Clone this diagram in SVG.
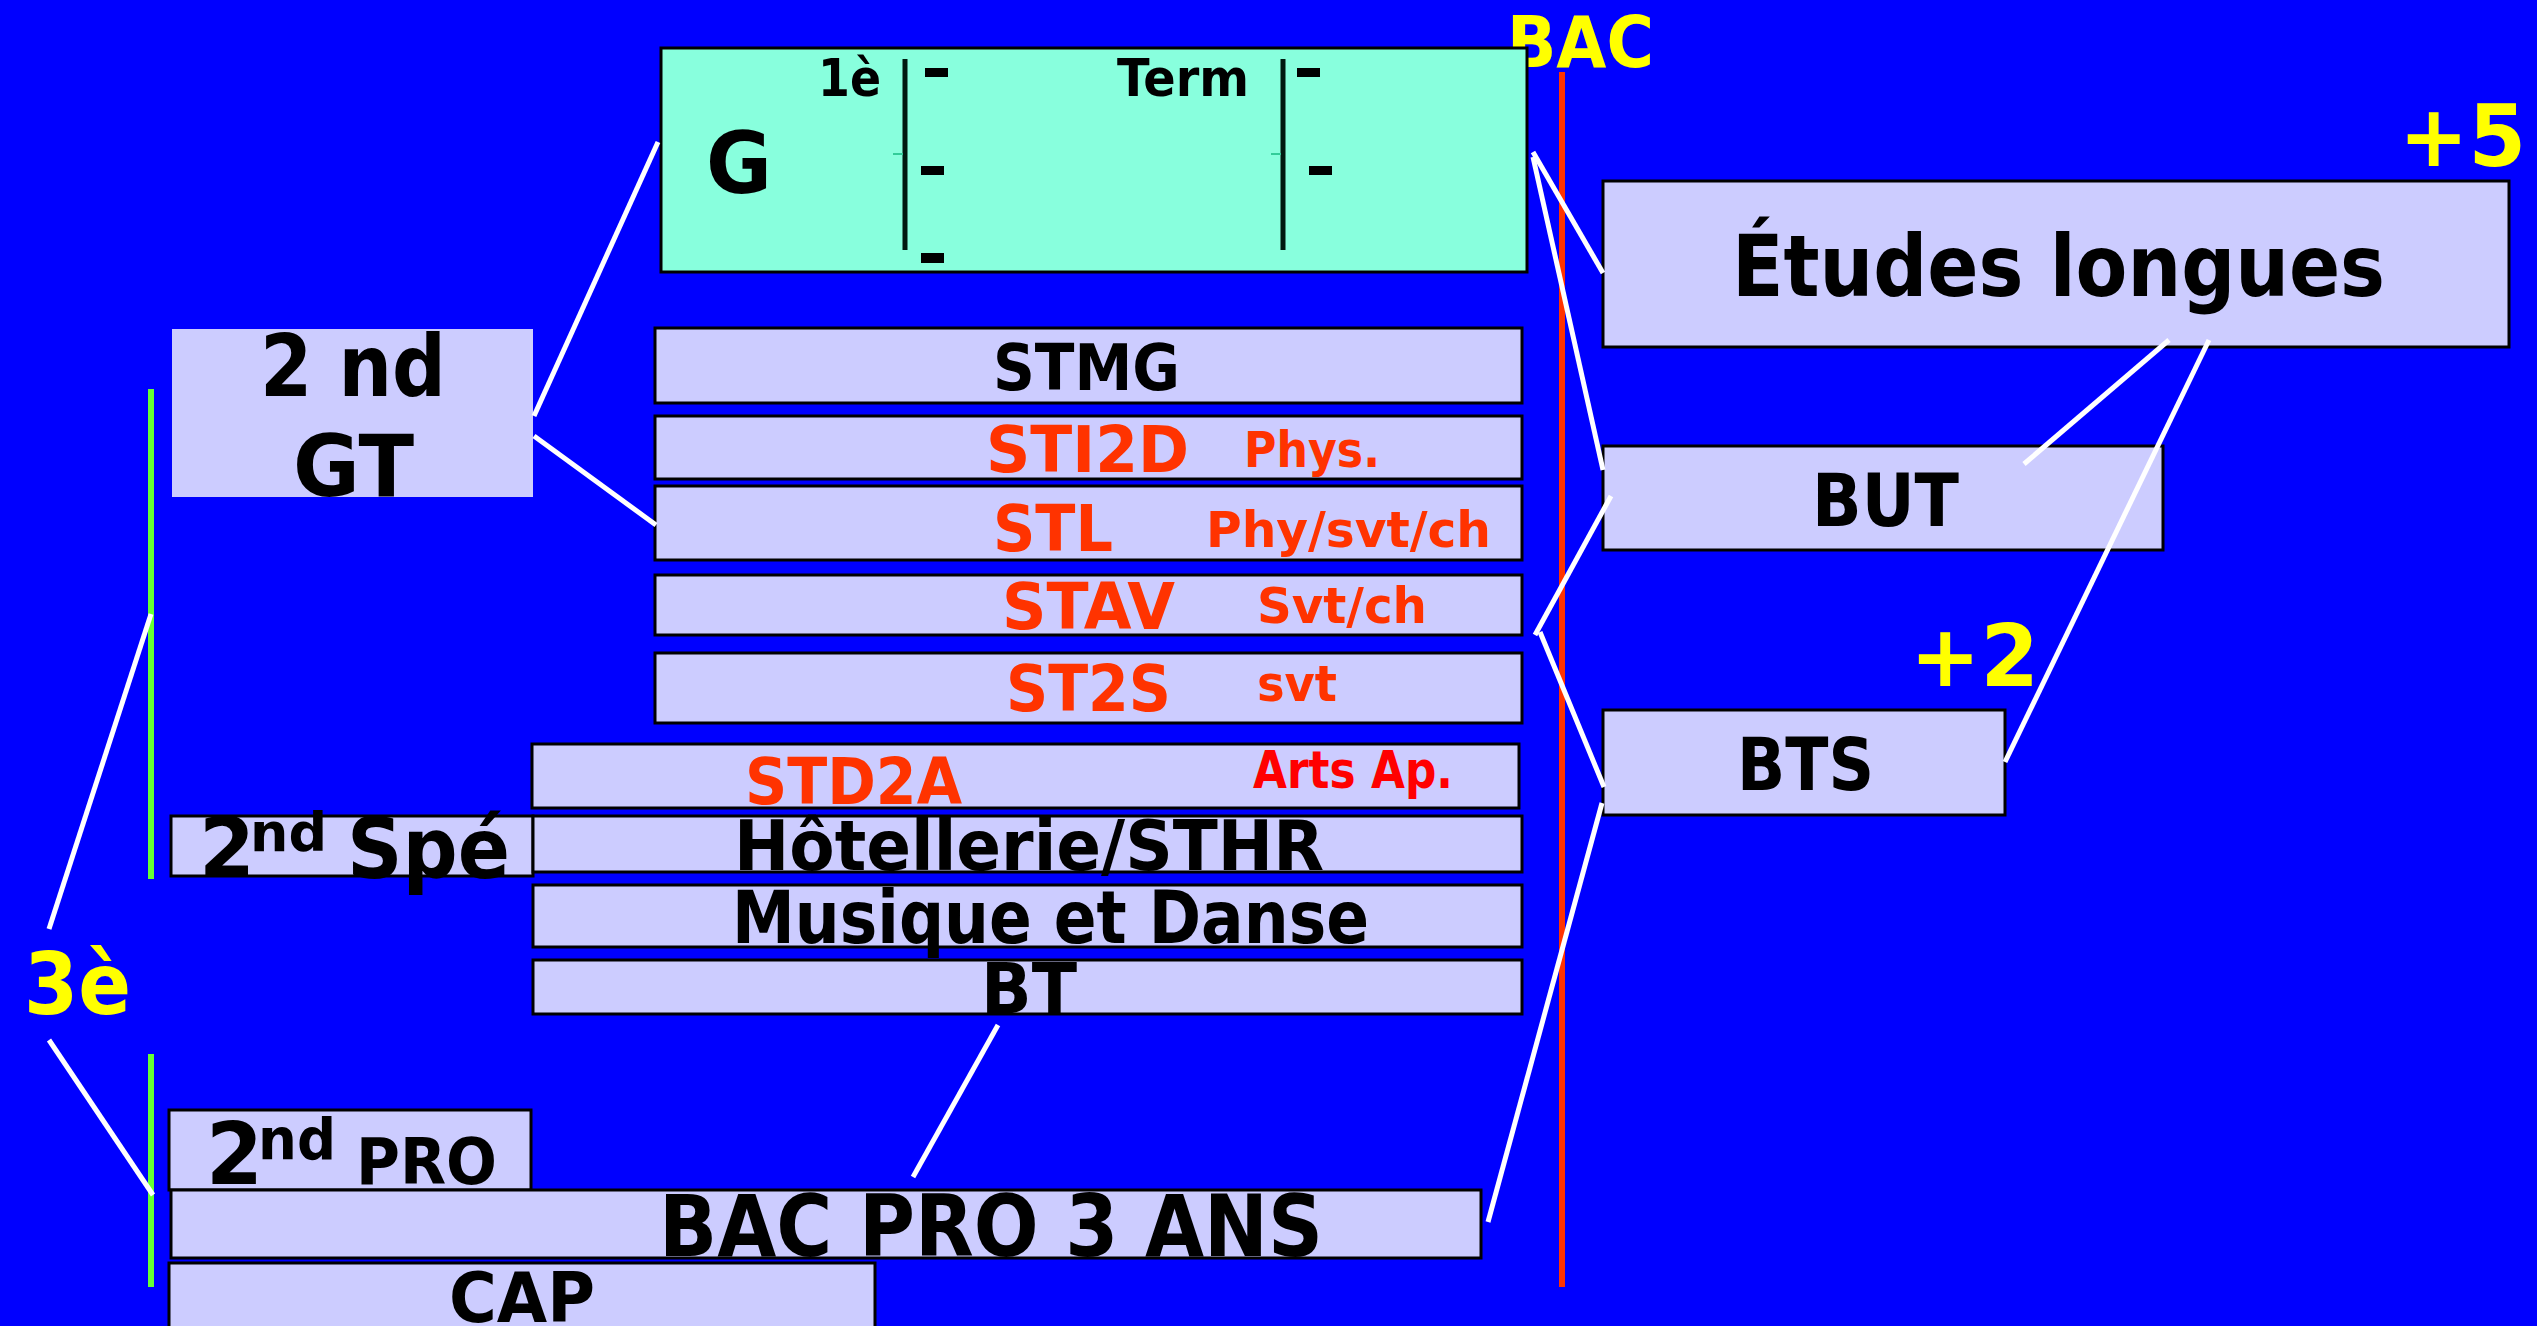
<svg xmlns="http://www.w3.org/2000/svg" width="2537" height="1326" viewBox="0 0 2537 1326">
<style>
.bx{fill:#CCCCFF;stroke:#000;stroke-width:3}
.nb{fill:#CCCCFF;stroke:none}
.t{font-family:"DejaVu Sans","Verdana",sans-serif;font-weight:bold;fill:#000}
.r{fill:#FF3300}
.rr{fill:#FF0000}
.y{fill:#FFFF00}
.cn{stroke:#FFFFFF;stroke-width:5;fill:none;stroke-linecap:butt}
</style>
<rect x="0" y="0" width="2537" height="1326" fill="#0000FF"/>

<g id="axes">
<line x1="1562" y1="72" x2="1562" y2="1287" stroke="#FF3300" stroke-width="6"/>
<line x1="151" y1="389" x2="151" y2="879" stroke="#66FF33" stroke-width="6"/>
<line x1="151" y1="1054" x2="151" y2="1287" stroke="#66FF33" stroke-width="6"/>
</g>

<g id="label-bac"><text class="t y" x="1507" y="67" font-size="71" textLength="147" lengthAdjust="spacingAndGlyphs">BAC</text></g>
<g id="label-plus5"><text class="t y" x="2399" y="166" font-size="86" textLength="127" lengthAdjust="spacingAndGlyphs">+5</text></g>
<g id="label-plus2"><text class="t y" x="1910" y="686" font-size="86" textLength="129" lengthAdjust="spacingAndGlyphs">+2</text></g>
<g id="label-3e"><text class="t y" x="24" y="1014" font-size="86" textLength="107" lengthAdjust="spacingAndGlyphs">3è</text></g>

<g id="node-g">
<rect x="661" y="48" width="866" height="224" fill="#88FFDD" stroke="#000" stroke-width="3"/>
<text class="t" x="706" y="193" font-size="86" textLength="66" lengthAdjust="spacingAndGlyphs">G</text>
<text class="t" x="818" y="96" font-size="52" textLength="63" lengthAdjust="spacingAndGlyphs">1è</text>
<text class="t" x="1117" y="96" font-size="52" textLength="132" lengthAdjust="spacingAndGlyphs">Term</text>
<line x1="905" y1="59" x2="905" y2="250" stroke="#001a10" stroke-width="5"/>
<line x1="1283" y1="59" x2="1283" y2="250" stroke="#001a10" stroke-width="5"/>
<line x1="893" y1="154" x2="903" y2="154" stroke="#33CC99" stroke-width="2"/>
<line x1="1271" y1="154" x2="1281" y2="154" stroke="#33CC99" stroke-width="2"/>
<rect x="925" y="68" width="23" height="9" fill="#000"/>
<rect x="921" y="166" width="23" height="9" fill="#000"/>
<rect x="921" y="253" width="23" height="10" fill="#000"/>
<rect x="1297" y="68" width="23" height="9" fill="#000"/>
<rect x="1309" y="166" width="23" height="9" fill="#000"/>
</g>

<g id="node-etudes-longues">
<rect class="bx" x="1603" y="181" width="906" height="166"/>
<text class="t" x="1732" y="296" font-size="86" textLength="653" lengthAdjust="spacingAndGlyphs">Études longues</text>
</g>
<g id="node-but">
<rect class="bx" x="1603" y="446" width="560" height="104"/>
<text class="t" x="1812" y="526" font-size="73" textLength="147" lengthAdjust="spacingAndGlyphs">BUT</text>
</g>
<g id="node-bts">
<rect class="bx" x="1603" y="710" width="402" height="105"/>
<text class="t" x="1737" y="790" font-size="73" textLength="137" lengthAdjust="spacingAndGlyphs">BTS</text>
</g>

<g id="node-2nd-gt">
<rect class="nb" x="172" y="329" width="361" height="168"/>
<text class="t" x="260" y="396" font-size="86" textLength="186" lengthAdjust="spacingAndGlyphs">2 nd</text>
<text class="t" x="293" y="496" font-size="86" textLength="121" lengthAdjust="spacingAndGlyphs">GT</text>
</g>

<g id="node-stmg">
<rect class="bx" x="655" y="328" width="867" height="75"/>
<text class="t" x="993" y="390" font-size="64" textLength="187" lengthAdjust="spacingAndGlyphs">STMG</text>
</g>
<g id="node-sti2d">
<rect class="bx" x="655" y="416" width="867" height="63"/>
<text class="t r" x="986" y="472" font-size="64" textLength="203" lengthAdjust="spacingAndGlyphs">STI2D</text>
<text class="t r" x="1244" y="467" font-size="49" textLength="136" lengthAdjust="spacingAndGlyphs">Phys.</text>
</g>
<g id="node-stl">
<rect class="bx" x="655" y="486" width="867" height="74"/>
<text class="t r" x="993" y="551" font-size="64" textLength="120" lengthAdjust="spacingAndGlyphs">STL</text>
<text class="t r" x="1206" y="547" font-size="50" textLength="285" lengthAdjust="spacingAndGlyphs">Phy/svt/ch</text>
</g>
<g id="node-stav">
<rect class="bx" x="655" y="575" width="867" height="60"/>
<text class="t r" x="1002" y="629" font-size="64" textLength="173" lengthAdjust="spacingAndGlyphs">STAV</text>
<text class="t r" x="1257" y="623" font-size="50" textLength="170" lengthAdjust="spacingAndGlyphs">Svt/ch</text>
</g>
<g id="node-st2s">
<rect class="bx" x="655" y="653" width="867" height="70"/>
<text class="t r" x="1006" y="711" font-size="64" textLength="165" lengthAdjust="spacingAndGlyphs">ST2S</text>
<text class="t r" x="1257" y="701" font-size="50" textLength="80" lengthAdjust="spacingAndGlyphs">svt</text>
</g>
<g id="node-std2a">
<rect class="bx" x="532" y="744" width="987" height="64"/>
<text class="t r" x="745" y="804" font-size="64" textLength="217" lengthAdjust="spacingAndGlyphs">STD2A</text>
<text class="t rr" x="1253" y="788" font-size="51" textLength="200" lengthAdjust="spacingAndGlyphs">Arts Ap.</text>
</g>
<g id="node-2nd-spe">
<rect class="bx" x="171" y="816" width="362" height="60"/>
<text class="t" x="199" y="877" font-size="84" textLength="56" lengthAdjust="spacingAndGlyphs">2</text>
<text class="t" x="250" y="851" font-size="54" textLength="77" lengthAdjust="spacingAndGlyphs">nd</text>
<text class="t" x="347" y="878" font-size="84" textLength="163" lengthAdjust="spacingAndGlyphs">Spé</text>
</g>
<g id="node-hotellerie">
<rect class="bx" x="533" y="816" width="989" height="56"/>
<text class="t" x="734" y="870" font-size="70" textLength="590" lengthAdjust="spacingAndGlyphs">Hôtellerie/STHR</text>
</g>
<g id="node-musique">
<rect class="bx" x="533" y="885" width="989" height="62"/>
<text class="t" x="732" y="943" font-size="73" textLength="637" lengthAdjust="spacingAndGlyphs">Musique et Danse</text>
</g>
<g id="node-bt">
<rect class="bx" x="533" y="960" width="989" height="54"/>
<text class="t" x="981" y="1013" font-size="69" textLength="96" lengthAdjust="spacingAndGlyphs">BT</text>
</g>
<g id="node-2nd-pro">
<rect class="bx" x="169" y="1110" width="362" height="80"/>
<text class="t" x="206" y="1184" font-size="85" textLength="57" lengthAdjust="spacingAndGlyphs">2</text>
<text class="t" x="258" y="1159" font-size="57" textLength="78" lengthAdjust="spacingAndGlyphs">nd</text>
<text class="t" x="356" y="1184" font-size="64" textLength="141" lengthAdjust="spacingAndGlyphs">PRO</text>
</g>
<g id="node-bac-pro">
<rect class="bx" x="171" y="1190" width="1310" height="68"/>
<text class="t" x="659" y="1256" font-size="85" textLength="664" lengthAdjust="spacingAndGlyphs">BAC PRO 3 ANS</text>
</g>
<g id="node-cap">
<rect class="bx" x="169" y="1263" width="706" height="70"/>
<text class="t" x="449" y="1322" font-size="70" textLength="146" lengthAdjust="spacingAndGlyphs">CAP</text>
</g>

<g id="connectors">
<line class="cn" x1="534" y1="416" x2="658" y2="142"/>
<line class="cn" x1="534" y1="436" x2="656" y2="525"/>
<line class="cn" x1="1533" y1="152" x2="1603" y2="273"/>
<line class="cn" x1="1533" y1="157" x2="1603" y2="470"/>
<line class="cn" x1="1611" y1="496" x2="1535" y2="635"/>
<line class="cn" x1="1540" y1="632" x2="1604" y2="787"/>
<line class="cn" x1="1602" y1="803" x2="1488" y2="1222"/>
<line class="cn" x1="2169" y1="340" x2="2024" y2="464"/>
<line class="cn" x1="2209" y1="340" x2="2005" y2="762"/>
<line class="cn" x1="998" y1="1025" x2="913" y2="1177"/>
<line class="cn" x1="49" y1="929" x2="151" y2="614"/>
<line class="cn" x1="49" y1="1040" x2="153" y2="1195"/>
</g>
</svg>
